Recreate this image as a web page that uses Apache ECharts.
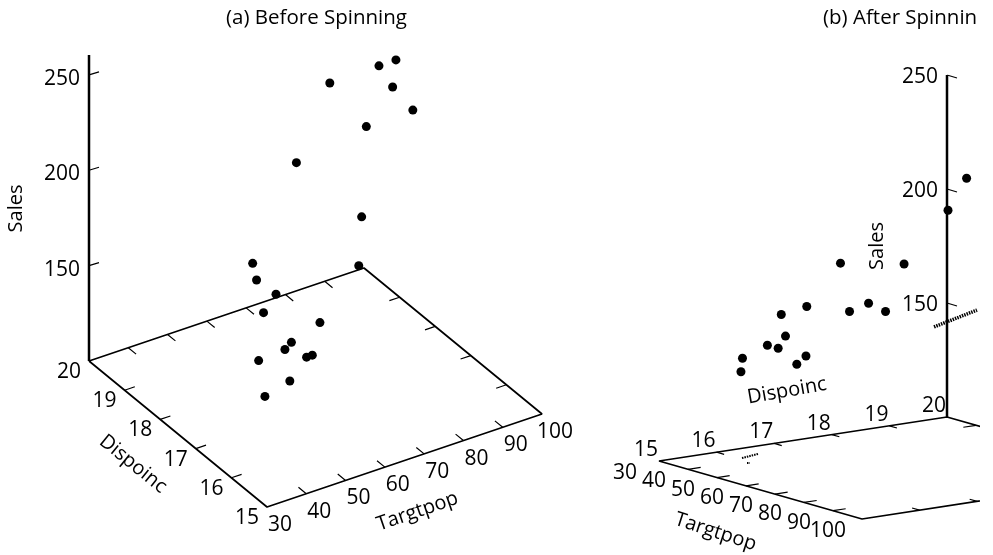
<!DOCTYPE html>
<html>
<head>
<meta charset="utf-8">
<style>html,body{margin:0;padding:0;background:#fff}#c{width:993px;height:555px}</style>
<script src="https://cdn.jsdelivr.net/npm/echarts@6/dist/echarts.min.js"></script>
</head>
<body>
<div id="c"></div>
<script>
// Values read from the two views
const targtpop = [68.5,45.2,91.3,47.8,46.9,66.1,49.5,52.0,48.9,38.4,87.9,72.8,88.4,42.9,52.5,85.7,41.3,51.7,89.6,82.7,52.3];
const dispoinc = [16.7,16.8,18.2,16.3,17.3,18.2,15.9,17.2,16.6,16.0,18.3,17.1,17.4,15.8,17.8,18.4,16.5,16.3,18.1,19.1,16.0];
const sales    = [174.4,164.4,244.2,154.6,181.6,207.5,152.8,163.2,145.4,137.2,241.9,191.1,232.0,145.3,161.1,209.7,146.4,144.0,232.6,224.1,166.5];
const targTicks = [30,40,50,60,70,80,90,100];
const dispTicks = [15,16,17,18,19,20];
const salesTicks = [150,200,250];

const INK = '#000';
const FONT = '"Open Sans"';

// Oblique projection of each view: pixels per full run of each floor axis
const views = [
  {ox:89, oy:361, xT:275, yT:-93, xD:178,  yD:146, sy:1.907, k:0.99, lean:0.014, xMin:0, xMax:471,
   grid:{left:89, right:433, top:55, bottom:3.3}, yMin:0, yMax:260.46,
   tickDir:-1, sLabel:[-27,4],
   dLabel:[-20,11], tLabel:[13,18],
   dName:{t:30,d:17.5,off:[-45,30],rot:-39,text:'Dispoinc'},
   tName:{t:65,d:15,off:[13,51],rot:19,text:'Targtpop'},
   salesName:{s:180,off:[-73,0]}},
  {ox:947, oy:417, xT:203, yT:58, xD:-288, yD:44, sy:2.28, k:1.03, lean:0, xMin:-337, xMax:31,
   grid:{left:610, right:15, top:75, bottom:24}, yMin:50, yMax:250,
   tickDir:1, sLabel:[-27,2],
   dLabel:[-13,-11], tLabel:[-34,12],
   dName:{t:30,d:17.5,off:[-16,-48],rot:10,text:'Dispoinc'},
   tName:{t:65,d:15,off:[-45,42],rot:-18,text:'Targtpop'},
   salesName:{s:175,off:[-70,0]}}
];

function project(v, T, D, S) {
  const t = (T - 30) / 70, d = (20 - D) / 5;
  const s = S === undefined ? 0 : S - 100;
  const X = v.xT * t + v.xD * d + v.lean * s;
  const Y = v.yT * t + v.yD * d;
  return [X, 100 - Y / v.sy + s * v.k];
}

// A rotated label's offset turns with it, so turn the wanted screen offset back
function localOffset(off, rot) {
  const r = (rot || 0) * Math.PI / 180;
  return [off[0]*Math.cos(r) - off[1]*Math.sin(r), off[0]*Math.sin(r) + off[1]*Math.cos(r)];
}

const grids = [], xAxes = [], yAxes = [], series = [];

function lineSeries(i, data, width, dash) {
  series.push({type:'line', xAxisIndex:i, yAxisIndex:i, data, showSymbol:false, silent:true,
    lineStyle:{color:INK, width, type:dash || 'solid'}, animation:false, z:2});
}
function textSeries(i, items, size) {
  series.push({type:'scatter', xAxisIndex:i, yAxisIndex:i, clip:false, symbolSize:1, silent:true,
    itemStyle:{color:'transparent', opacity:1}, animation:false, z:4,
    data: items.map(o => ({value:o.p, name:o.text, label:{show:true, position:'inside', formatter:o.text,
      color:INK, opacity:1, textBorderWidth:0, textBorderColor:'transparent', fontFamily:FONT, fontSize:size,
      align:'center', verticalAlign:'middle',
      offset:localOffset(o.off, o.rot), rotate:o.rot || 0}}))});
}

views.forEach((v, i) => {
  grids.push(Object.assign({containLabel:false, outerBoundsMode:'none'}, v.grid));
  xAxes.push({type:'value', gridIndex:i, min:v.xMin, max:v.xMax, show:false});
  yAxes.push({type:'value', gridIndex:i, min:v.yMin, max:v.yMax, interval:50,
    splitLine:{show:false}, axisLine:{show:false, onZero:false}, axisTick:{show:false}, axisLabel:{show:false}});

  // Sales axis and its slanted ticks
  lineSeries(i, [[0,100],[0,v.yMax]], 2.5);
  const st = [];
  salesTicks.forEach(s => { st.push([0,s],[10, s - v.tickDir*(3/v.sy)],['-','-']); });
  lineSeries(i, st, 1.2);

  // Floor outline
  lineSeries(i, [project(v,30,20),project(v,100,20),project(v,100,15),project(v,30,15),project(v,30,20)], 1.7);

  // Floor ticks, pointing inward along the other floor axis
  const ft = [];
  targTicks.slice(1,-1).forEach(T => {
    ft.push(project(v,T,20),project(v,T,19.78),['-','-']);
    ft.push(project(v,T,15),project(v,T,15.22),['-','-']);
  });
  dispTicks.slice(1,-1).forEach(D => {
    ft.push(project(v,30,D),project(v,32.6,D),['-','-']);
    ft.push(project(v,100,D),project(v,97.4,D),['-','-']);
  });
  lineSeries(i, ft, 1.2);

  // Points
  series.push({type:'scatter', xAxisIndex:i, yAxisIndex:i, symbolSize:9, silent:true, animation:false, z:5,
    itemStyle:{color:INK, opacity:1},
    data: targtpop.map((T,k) => project(v,T,dispoinc[k],sales[k]))});

  // Tick and axis labels
  textSeries(i, salesTicks.map(S => ({p:[0,S], text:String(S), off:v.sLabel})), 21);
  textSeries(i, dispTicks.map(D => ({p:project(v,30,D), text:String(D), off:v.dLabel})), 21);
  textSeries(i, targTicks.map(T => ({p:project(v,T,15), text:String(T), off:v.tLabel})), 21);
  textSeries(i, [
    {p:project(v,v.dName.t,v.dName.d), text:v.dName.text, off:v.dName.off, rot:v.dName.rot},
    {p:project(v,v.tName.t,v.tName.d), text:v.tName.text, off:v.tName.off, rot:v.tName.rot},
    {p:[0,v.salesName.s], text:'Sales', off:v.salesName.off, rot:90}
  ], 20);
});

// Edge-on labels in view (b), which appear as specks
const specks = [[[-13,139.5],[30,146.9]], [[-205,82],[-189,83.8]], [[-200,79.8],[-197,79.8]]];
specks.forEach((seg, n) => lineSeries(1, seg, n === 0 ? 3.5 : 2, [1.5,1]));

const chart = echarts.init(document.getElementById('c'), null, {renderer:'canvas'});
chart.setOption({
  backgroundColor:'#fff', animation:false,
  title:[
    {text:'(a) Before Spinning', left:226, top:8, padding:0, textStyle:{fontFamily:FONT, fontSize:20.5, fontWeight:'normal', color:INK}},
    {text:'(b) After Spinnin', left:823, top:8, padding:0, textStyle:{fontFamily:FONT, fontSize:20.5, fontWeight:'normal', color:INK}}
  ],
  grid:grids, xAxis:xAxes, yAxis:yAxes, series
});
</script>
</body>
</html>
